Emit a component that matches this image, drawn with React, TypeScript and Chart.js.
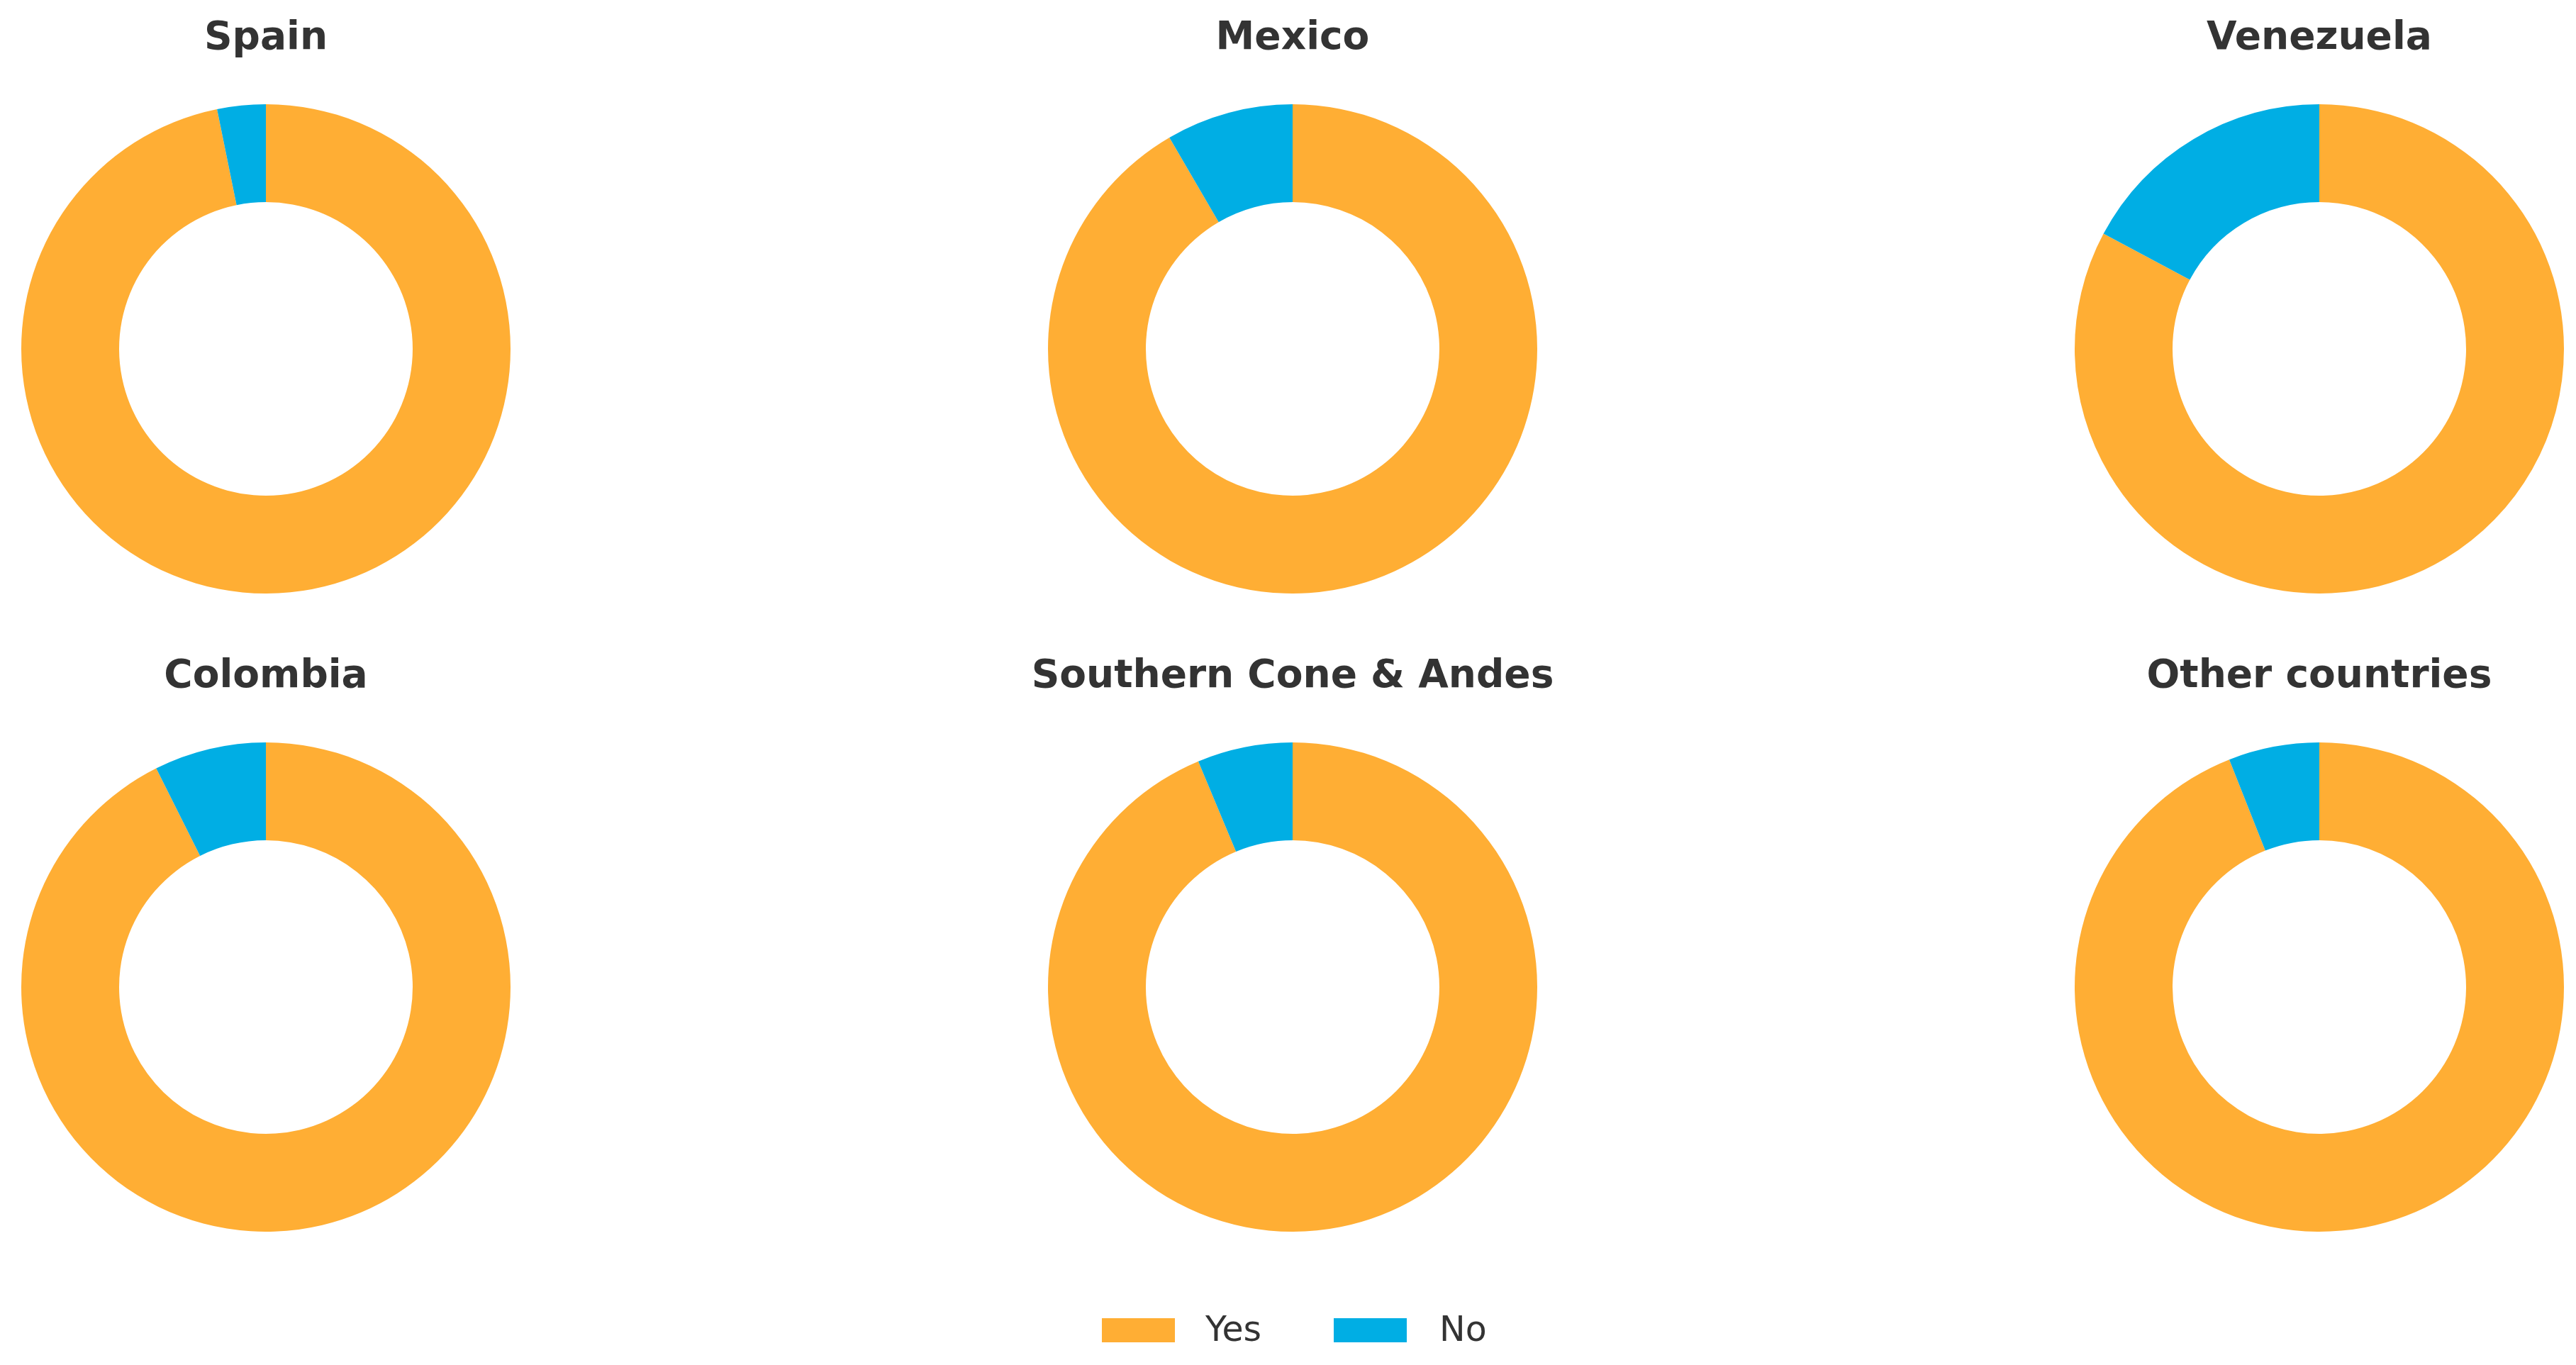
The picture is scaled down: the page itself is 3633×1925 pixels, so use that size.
import React, { useEffect, useRef } from "react";
import { Chart, registerables } from "chart.js";

Chart.register(...registerables);

// ---- Data ----
const regions = [
  "Spain",
  "Mexico",
  "Venezuela",
  "Colombia",
  "Southern Cone & Andes",
  "Other countries",
];
const answerLabels = ["Yes", "No"];
const yesValues = [96.8, 91.6, 82.8, 92.6, 93.7, 94.0];
const noValues = [3.2, 8.4, 17.2, 7.4, 6.3, 6.0];

// ---- Style ----
const COLORS = ["#FFAE34", "#00AEE4"];
const TEXT_COLOR = "#333333";
const FONT = "'DejaVu Sans', 'Liberation Sans', sans-serif";

const CANVAS_W = 800;
const CANVAS_H = 837;
const COL_CENTERS = [375, 1823, 3271];
const ROW_TOPS = [0, 900];

function Donut({ index }: { index: number }) {
  const ref = useRef<HTMLCanvasElement | null>(null);
  useEffect(() => {
    if (!ref.current) return;
    const chart = new Chart(ref.current, {
      type: "doughnut",
      data: {
        labels: answerLabels,
        datasets: [
          {
            data: [yesValues[index], noValues[index]],
            backgroundColor: COLORS,
            borderWidth: 0,
          },
        ],
      },
      options: {
        responsive: false,
        animation: false,
        cutout: "60%",
        layout: { padding: 0 },
        plugins: {
          legend: { display: false },
          tooltip: { enabled: false },
          title: {
            display: true,
            text: regions[index],
            color: TEXT_COLOR,
            font: { family: FONT, size: 55, weight: "bold", lineHeight: 1.2 },
            padding: { top: 22, bottom: 59 },
          },
        },
      },
    });
    return () => chart.destroy();
  }, [index]);
  const col = index % 3;
  const row = Math.floor(index / 3);
  return (
    <canvas
      ref={ref}
      width={CANVAS_W}
      height={CANVAS_H}
      style={{
        position: "absolute",
        left: COL_CENTERS[col] - CANVAS_W / 2,
        top: ROW_TOPS[row],
        width: CANVAS_W,
        height: CANVAS_H,
      }}
    />
  );
}

export default function App() {
  const legendItems = [
    { box: 1554, text: 1700 },
    { box: 1881, text: 2030 },
  ];
  return (
    <div
      style={{
        position: "absolute",
        left: 0,
        top: 0,
        width: 3633,
        height: 1925,
        overflow: "hidden",
        background: "#ffffff",
      }}
    >
      {regions.map((_, i) => (
        <Donut key={i} index={i} />
      ))}
      {answerLabels.map((label, i) => (
        <React.Fragment key={label}>
          <div
            style={{
              position: "absolute",
              left: legendItems[i].box,
              top: 1859,
              width: 103,
              height: 34,
              background: COLORS[i],
            }}
          />
          <span
            style={{
              position: "absolute",
              left: legendItems[i].text,
              top: 1850,
              fontFamily: FONT,
              fontSize: 49,
              lineHeight: "49px",
              color: TEXT_COLOR,
              whiteSpace: "nowrap",
            }}
          >
            {label}
          </span>
        </React.Fragment>
      ))}
    </div>
  );
}
